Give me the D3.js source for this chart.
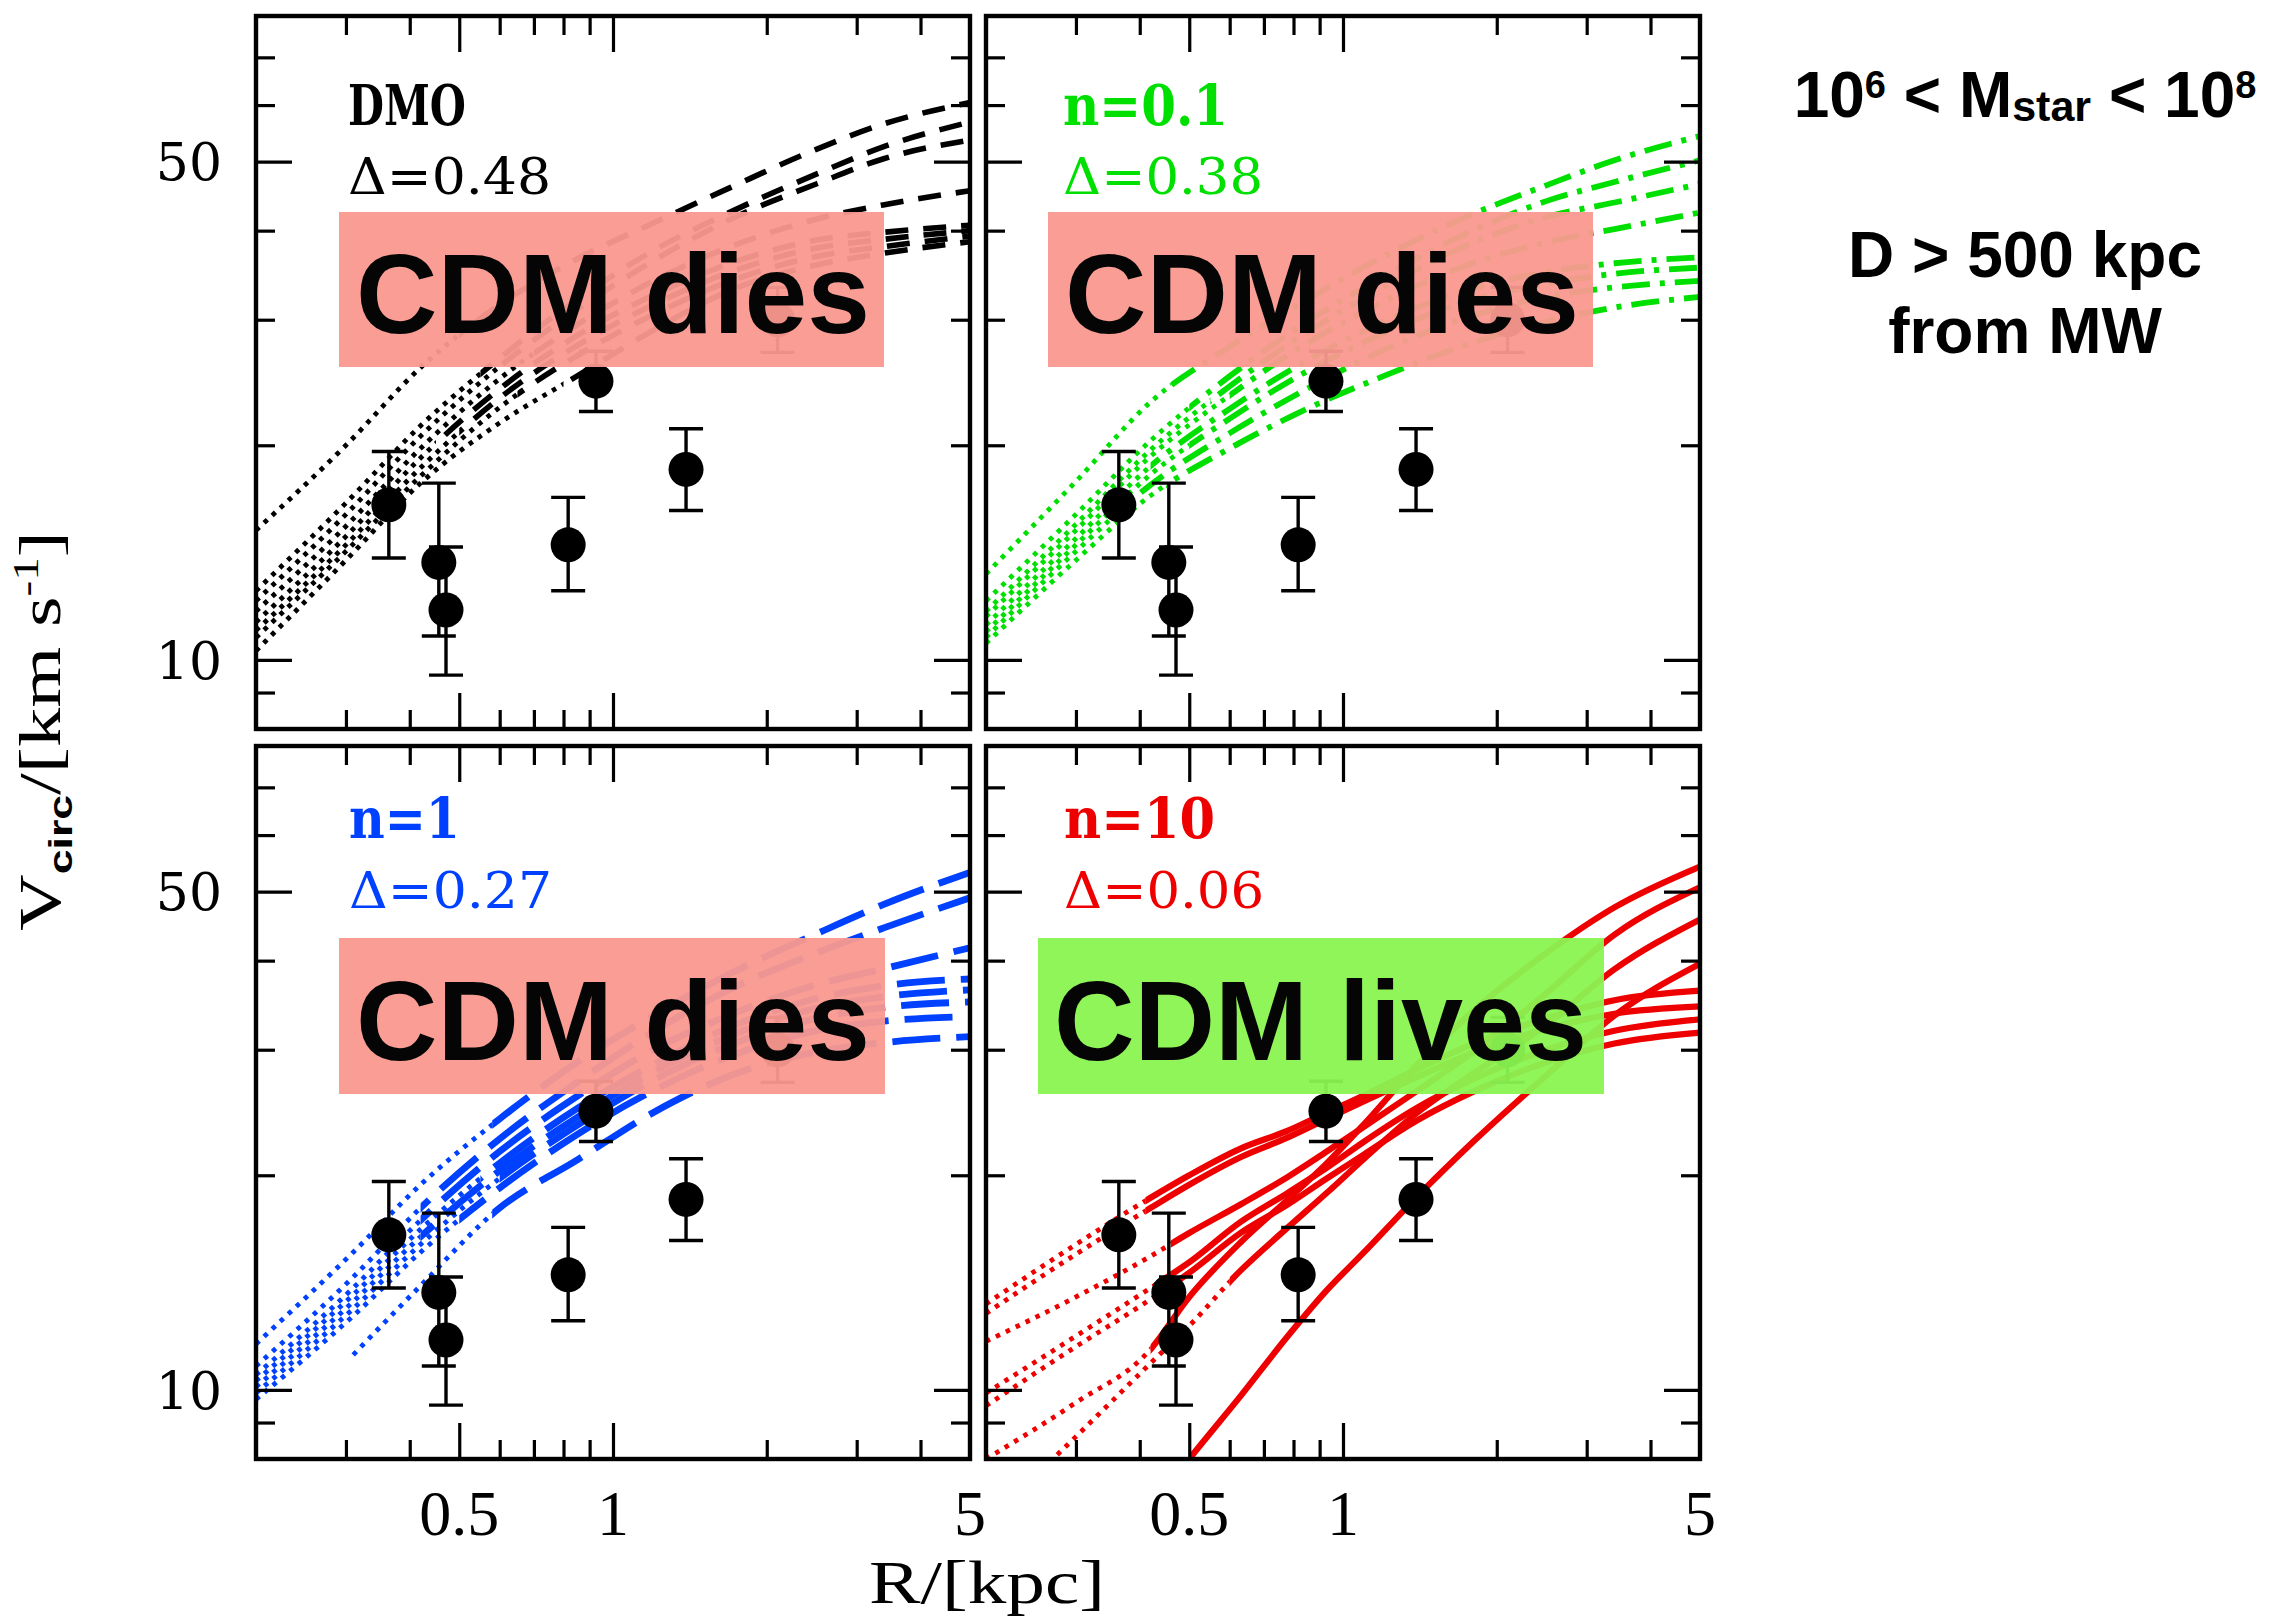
<!DOCTYPE html>
<html>
<head>
<meta charset="utf-8">
<script src="https://cdn.jsdelivr.net/npm/d3@7"></script>
<style>
  body { margin: 0; background: #ffffff; }
  svg { display: block; }
</style>
</head>
<body>
<svg id="chart" width="2271" height="1619"></svg>
<script>
// ---------------------------------------------------------------------------
// Observed rotation-curve points (R in kpc, V in km/s) with error bars
// ---------------------------------------------------------------------------
const obsR   = [0.364, 0.456, 0.471, 0.817, 0.926, 1.39, 2.1];
const obsV   = [16.5, 13.7, 11.75, 14.5, 24.6, 18.5, 30.0];
const obsVlo = [13.9, 10.8, 9.52, 12.5, 22.3, 16.2, 27.0];
const obsVhi = [19.6, 17.7, 14.4, 16.9, 27.1, 21.1, 33.3];

// ---------------------------------------------------------------------------
// Simulated circular-velocity curves, one row per halo.
// Each set has its own radius grid; *Rconv is the radius below which
// the curve is drawn dotted (unconverged region).
// ---------------------------------------------------------------------------
const radiiGrid = [0.2, 0.3, 0.42, 0.6, 0.85, 1.2, 1.7, 2.5, 3.4, 5];

const dmoVcirc = [
  [15.2, 20.0, 25.7, 31.5, 36.5, 41.0, 46.0, 52.0, 56.5, 60.5],
  [12.5, 16.6, 21.3, 26.5, 32.0, 37.5, 42.5, 48.0, 52.5, 56.8],
  [12.1, 16.0, 20.6, 25.8, 31.0, 36.3, 41.5, 46.5, 50.5, 53.6],
  [11.7, 15.4, 19.8, 24.8, 29.5, 34.0, 38.0, 41.5, 43.5, 45.5],
  [11.3, 14.9, 19.2, 24.0, 28.5, 32.5, 36.0, 38.8, 39.8, 40.7],
  [11.0, 14.5, 18.6, 23.3, 27.6, 31.5, 35.0, 37.8, 38.9, 40.0],
  [10.75, 14.2, 18.1, 22.6, 26.7, 30.5, 34.0, 36.8, 38.0, 39.3],
  [10.3, 13.8, 17.7, 21.5, 25.0, 29.0, 33.0, 35.8, 37.2, 38.6]
];
const dmoRconv = [0.5, 0.55, 0.6, 0.7, 0.45, 0.5, 0.65, 0.8];

const n01Vcirc = [
  [13.2, 17.8, 23.0, 27.5, 32.0, 36.8, 41.5, 46.3, 50.2, 54.3],
  [12.1, 16.0, 20.3, 25.0, 29.8, 34.5, 39.3, 44.0, 46.8, 50.2],
  [11.7, 15.5, 19.7, 24.2, 28.8, 33.3, 37.8, 41.8, 43.8, 46.5],
  [11.5, 15.2, 19.3, 23.5, 27.8, 31.8, 35.5, 38.5, 40.2, 42.4],
  [11.2, 14.8, 18.7, 22.5, 26.3, 29.8, 32.8, 35.0, 36.0, 36.7],
  [10.95, 14.5, 18.2, 21.8, 25.4, 28.7, 31.6, 33.7, 34.8, 35.5],
  [10.75, 14.2, 17.6, 20.8, 24.0, 27.2, 30.0, 32.3, 33.3, 34.0],
  [10.55, 13.8, 17.0, 19.8, 22.5, 25.0, 27.5, 29.8, 31.2, 32.3]
];
const n01Rconv = [0.46, 0.5, 0.55, 0.6, 0.42, 0.5, 0.38, 0.45];

const radiiN1 = [0.2, 0.31, 0.42, 0.6, 0.85, 1.2, 1.7, 2.5, 3.4, 5];
const n1Vcirc = [
  [11.6, 15.6, 19.4, 24.0, 28.8, 33.5, 38.4, 43.6, 48.0, 53.2],
  [10.8, 14.4, 18.0, 22.5, 27.0, 31.8, 36.5, 41.0, 44.5, 49.0],
  [10.5, 13.9, 17.3, 21.6, 25.8, 30.0, 33.6, 37.0, 39.0, 41.7],
  [10.3, 13.6, 16.8, 20.8, 24.8, 28.6, 32.3, 35.4, 36.9, 37.7],
  [10.1, 13.3, 16.4, 20.3, 24.1, 27.9, 31.4, 34.3, 35.6, 36.4],
  [9.9, 13.0, 16.0, 19.8, 23.5, 27.2, 30.5, 33.2, 34.4, 35.0],
  [9.7, 12.7, 15.6, 19.2, 22.8, 26.3, 29.4, 31.9, 32.9, 33.4],
  [null, 11.2, 14.0, 18.0, 21.0, 24.5, 27.6, 29.8, 30.7, 31.3]
];
const n1Rconv = [0.58, 0.42, 0.42, 0.55, 0.42, 0.6, 0.5, 0.58];

const radiiN10 = [0.2, 0.3, 0.42, 0.5, 0.63, 0.78, 0.93, 1.1, 1.4, 1.8, 2.5, 3.4, 5];
const n10Vcirc = [
  [13.2, 16.0, 18.6, 20.0, 21.8, 23.1, 24.5, 25.9, 28.2, 30.6, 33.2, 35.2, 36.3],
  [12.8, 15.5, 18.0, 19.4, 21.2, 22.6, 24.0, 25.4, 27.5, 29.7, 32.1, 33.7, 34.5],
  [11.7, 13.5, 15.4, 16.6, 18.2, 19.9, 21.6, 23.4, 26.3, 29.8, 36.0, 43.5, 50.7],
  [8.0, 9.6, 11.4, 13.5, 16.1, 18.5, 20.8, 23.6, 28.6, 34.0, 41.0, 47.5, 54.2],
  [9.9, 11.9, 13.9, 15.1, 17.2, 18.9, 20.5, 22.3, 24.9, 27.3, 30.0, 31.9, 33.1],
  [9.5, 11.5, 13.4, 14.6, 16.6, 18.2, 19.8, 21.4, 23.9, 26.2, 28.8, 30.6, 31.7],
  [6.5, 8.6, 10.9, 12.3, 14.7, 16.9, 18.9, 21.1, 24.5, 27.8, 32.5, 38.9, 45.7],
  [null, null, 6.8, 8.0, 9.8, 11.9, 13.8, 15.6, 18.7, 22.3, 27.6, 33.5, 39.6]
];
const n10Rconv = [0.41, 0.41, 0.46, 0.42, 0.44, 0.44, 0.6, 0.5];

// Panel texts
const modelNames = ["DMO", "n=0.1", "n=1", "n=10"];
const modelDelta = ["\u0394=0.48", "\u0394=0.38", "\u0394=0.27", "\u0394=0.06"];
const verdicts   = ["CDM dies", "CDM dies", "CDM dies", "CDM lives"];

// Axis ticks
const xMajorTicks = [0.5, 1];
const xMinorTicks = [0.3, 0.4, 0.6, 0.7, 0.8, 0.9, 2, 3, 4];
const xTickLabels = [0.5, 1, 5];
const yMajorTicks = [10, 50];
const yMinorTicks = [9, 20, 30, 40, 60, 70];
const yTickLabels = [10, 50];

// ---------------------------------------------------------------------------
// Layout and styling
// ---------------------------------------------------------------------------
const W = 714, H = 713;
const x = d3.scaleLog().domain([0.2, 5]).range([0, W]);
const y = d3.scaleLog().domain([8, 80]).range([H, 0]);

const curveSets = [
  { radii: radiiGrid, vc: dmoVcirc, rc: dmoRconv },
  { radii: radiiGrid, vc: n01Vcirc, rc: n01Rconv },
  { radii: radiiN1,   vc: n1Vcirc,  rc: n1Rconv },
  { radii: radiiN10,  vc: n10Vcirc, rc: n10Rconv }
];

const layout = [
  { left: 256, top: 16,  color: "#000000", dash: "23,15",        lw: 5.6,
    nameX: 348,  nameY: 125, deltaY: 194, nameW: 118, deltaW: 203,
    box: [339, 212, 545, 155], boxFill: "#fa998f", textX: 356, textY: 333, textW: 514,
    xLabels: false, yLabels: true },
  { left: 986, top: 16,  color: "#00e000", dash: "28,10,5,10",   lw: 5.8,
    nameX: 1063, nameY: 125, deltaY: 194, nameW: 165, deltaW: 200,
    box: [1048, 212, 545, 155], boxFill: "#fa998f", textX: 1065, textY: 333, textW: 514,
    xLabels: false, yLabels: false },
  { left: 256, top: 746, color: "#0040ff", dash: "48,16",        lw: 6.8,
    nameX: 349,  nameY: 838, deltaY: 908, nameW: 111, deltaW: 203,
    box: [339, 938, 546, 156], boxFill: "#fa998f", textX: 356, textY: 1060, textW: 514,
    xLabels: true, yLabels: true },
  { left: 986, top: 746, color: "#ee0000", dash: null,           lw: 6.2,
    nameX: 1064, nameY: 838, deltaY: 908, nameW: 151, deltaW: 200,
    box: [1038, 938, 566, 156], boxFill: "#89f450", textX: 1054, textY: 1060, textW: 533,
    xLabels: true, yLabels: false }
];

const svg = d3.select("#chart");
svg.append("rect").attr("width", 2271).attr("height", 1619).attr("fill", "#ffffff");
const defs = svg.append("defs");

const lineGen = d3.line()
  .defined(d => d[1] != null)
  .x(d => x(d[0]))
  .y(d => y(d[1]))
  .curve(d3.curveMonotoneX);

layout.forEach((p, pi) => {
  const g = svg.append("g").attr("transform", `translate(${p.left},${p.top})`);
  const set = curveSets[pi];

  // clip to the frame
  defs.append("clipPath").attr("id", `frame${pi}`)
    .append("rect").attr("width", W).attr("height", H);

  const curvesG = g.append("g").attr("clip-path", `url(#frame${pi})`);

  set.vc.forEach((row, k) => {
    const pts = set.radii.map((r, i) => [r, row[i]]);
    const xc = x(set.rc[k]);
    defs.append("clipPath").attr("id", `inner${pi}_${k}`)
      .append("rect").attr("x", -10).attr("y", -200).attr("width", xc + 10).attr("height", H + 400);
    defs.append("clipPath").attr("id", `outer${pi}_${k}`)
      .append("rect").attr("x", xc).attr("y", -200).attr("width", W - xc + 10).attr("height", H + 400);

    // unconverged inner part: dotted
    curvesG.append("path")
      .attr("d", lineGen(pts))
      .attr("clip-path", `url(#inner${pi}_${k})`)
      .attr("fill", "none")
      .attr("stroke", p.color)
      .attr("stroke-width", 4.8)
      .attr("stroke-dasharray", "4.5,6.5");

    // converged outer part: model line style
    const outer = curvesG.append("path")
      .attr("d", lineGen(pts))
      .attr("clip-path", `url(#outer${pi}_${k})`)
      .attr("fill", "none")
      .attr("stroke", p.color)
      .attr("stroke-width", p.lw)
      .attr("stroke-linejoin", "round");
    if (p.dash) outer.attr("stroke-dasharray", p.dash);
  });

  // observed points with error bars
  const obsG = g.append("g");
  obsR.forEach((r, i) => {
    const cx = x(r);
    obsG.append("line").attr("x1", cx).attr("x2", cx)
      .attr("y1", y(obsVlo[i])).attr("y2", y(obsVhi[i]))
      .attr("stroke", "#000").attr("stroke-width", 3.4);
    [obsVlo[i], obsVhi[i]].forEach(v => {
      obsG.append("line").attr("x1", cx - 17).attr("x2", cx + 17)
        .attr("y1", y(v)).attr("y2", y(v))
        .attr("stroke", "#000").attr("stroke-width", 3.4);
    });
    obsG.append("circle").attr("cx", cx).attr("cy", y(obsV[i])).attr("r", 17.5).attr("fill", "#000");
  });

  // ticks on all four sides, pointing inward
  const tickAxes = [
    [d3.axisBottom(x), `translate(0,${H})`, xMajorTicks, xMinorTicks],
    [d3.axisTop(x),    `translate(0,0)`,    xMajorTicks, xMinorTicks],
    [d3.axisLeft(y),   `translate(0,0)`,    yMajorTicks, yMinorTicks],
    [d3.axisRight(y),  `translate(${W},0)`, yMajorTicks, yMinorTicks]
  ];
  tickAxes.forEach(([axisFn, tr, major, minor]) => {
    [[major, 36], [minor, 19]].forEach(([vals, len]) => {
      const a = g.append("g").attr("transform", tr)
        .call(axisFn.tickValues(vals).tickSize(-len).tickSizeOuter(0).tickFormat(""));
      a.select(".domain").remove();
      a.selectAll("line").attr("stroke", "#000").attr("stroke-width", 3.2);
    });
  });

  // frame
  g.append("rect").attr("width", W).attr("height", H)
    .attr("fill", "none").attr("stroke", "#000").attr("stroke-width", 4.4);

  // tick labels
  if (p.yLabels) {
    yTickLabels.forEach(v => {
      svg.append("text")
        .attr("x", 222).attr("y", p.top + y(v)).attr("dy", "0.36em")
        .attr("text-anchor", "end")
        .style("font-family", "DejaVu Serif").style("font-size", "52px")
        .text(v);
    });
  }
  if (p.xLabels) {
    xTickLabels.forEach(v => {
      svg.append("text")
        .attr("x", p.left + x(v)).attr("y", 1535)
        .attr("text-anchor", "middle")
        .style("font-family", "Liberation Serif").style("font-size", "64px")
        .text(v);
    });
  }

  // model name and offset
  svg.append("text")
    .attr("x", p.nameX).attr("y", p.nameY)
    .attr("textLength", p.nameW).attr("lengthAdjust", "spacingAndGlyphs")
    .style("font-family", "DejaVu Serif").style("font-weight", "bold").style("font-size", "56px")
    .attr("fill", p.color)
    .text(modelNames[pi]);
  svg.append("text")
    .attr("x", p.nameX).attr("y", p.deltaY)
    .attr("textLength", p.deltaW).attr("lengthAdjust", "spacingAndGlyphs")
    .style("font-family", "DejaVu Serif").style("font-size", "50px")
    .attr("fill", p.color)
    .text(modelDelta[pi]);
});

// verdict boxes on top of everything in the panels
layout.forEach((p, pi) => {
  svg.append("rect")
    .attr("x", p.box[0]).attr("y", p.box[1]).attr("width", p.box[2]).attr("height", p.box[3])
    .attr("fill", p.boxFill).attr("fill-opacity", 0.95);
  svg.append("text")
    .attr("x", p.textX).attr("y", p.textY)
    .attr("textLength", p.textW).attr("lengthAdjust", "spacingAndGlyphs")
    .style("font-family", "Liberation Sans, Arial, Helvetica, sans-serif")
    .style("font-weight", "bold").style("font-size", "113px")
    .attr("fill", "#050505")
    .text(verdicts[pi]);
});

// axis titles
svg.append("text")
  .attr("x", 987).attr("y", 1603)
  .attr("text-anchor", "middle")
  .attr("textLength", 236).attr("lengthAdjust", "spacingAndGlyphs")
  .style("font-family", "Liberation Serif").style("font-size", "62px")
  .text("R/[kpc]");

const yTitle = svg.append("text")
  .attr("text-anchor", "middle")
  .style("font-family", "Liberation Serif").style("font-size", "60px");
yTitle.append("tspan").text("V");
yTitle.append("tspan").attr("dy", 12)
  .style("font-family", "Liberation Sans Narrow, Liberation Sans, sans-serif")
  .style("font-weight", "bold").style("font-size", "34px").text("circ");
yTitle.append("tspan").attr("dy", -12).text("/[km s");
yTitle.append("tspan").attr("dy", -22).style("font-size", "36px").text("-1");
yTitle.append("tspan").attr("dy", 22).text("]");
{
  const bw = yTitle.node().getBBox().width;
  const s = 400 / bw;
  yTitle.attr("transform", `translate(60,731) rotate(-90) scale(${s},1)`);
}

// sample description
const noteFont = "Liberation Sans, Arial, Helvetica, sans-serif";
const note1 = svg.append("text")
  .attr("x", 2025).attr("y", 117).attr("text-anchor", "middle")
  .style("font-family", noteFont).style("font-weight", "bold").style("font-size", "64px");
note1.append("tspan").text("10");
note1.append("tspan").attr("dy", -19).style("font-size", "38px").text("6");
note1.append("tspan").attr("dy", 19).text(" < M");
note1.append("tspan").attr("dy", 4).style("font-size", "43px").text("star");
note1.append("tspan").attr("dy", -4).text(" < 10");
note1.append("tspan").attr("dy", -19).style("font-size", "38px").text("8");

[["D > 500 kpc", 277], ["from MW", 353]].forEach(([t, yy]) => {
  svg.append("text")
    .attr("x", 2025).attr("y", yy).attr("text-anchor", "middle")
    .style("font-family", noteFont).style("font-weight", "bold").style("font-size", "64px")
    .text(t);
});
</script>
</body>
</html>
